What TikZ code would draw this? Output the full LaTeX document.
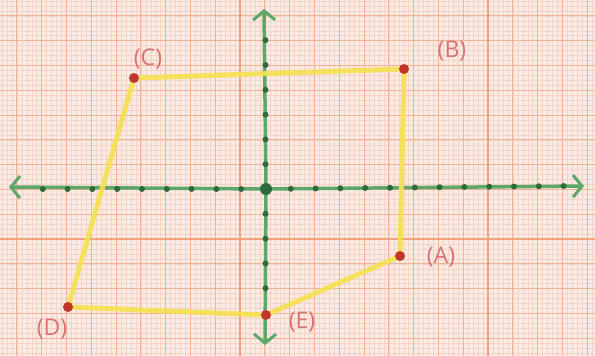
\documentclass[tikz,border=0pt]{standalone}
\usepackage{fontspec}
\setsansfont{Open Sans}
\usetikzlibrary{arrows.meta}
\definecolor{paper}{HTML}{FAEAE3}
\definecolor{finegrid}{HTML}{F1D5C8}
\definecolor{midgrid}{HTML}{F0B396}
\definecolor{boldgrid}{HTML}{F2A27A}
\definecolor{axisgreen}{HTML}{5DA868}
\definecolor{dotgreen}{HTML}{2F6A3C}
\definecolor{shapeyellow}{HTML}{F5E150}
\definecolor{pointred}{HTML}{C3352C}
\definecolor{labelred}{HTML}{D97276}
\tikzset{
  axisline/.style={draw=axisgreen, line width=3.5pt, line cap=round,
    -{Straight Barb[length=9pt,width=22pt,line width=3pt]}},
  tickdot/.style={circle, fill=dotgreen, inner sep=0pt, minimum size=6pt},
  origindot/.style={circle, fill=dotgreen, inner sep=0pt, minimum size=12pt},
  edge/.style={draw=shapeyellow, line width=5pt, line cap=round, line join=round, opacity=0.9},
  ptdot/.style={circle, fill=pointred, inner sep=0pt, minimum size=10pt},
  ptlabel/.style={text=labelred, font=\sffamily\fontsize{23}{23}\selectfont, inner sep=0pt}
}
\begin{document}
\begin{tikzpicture}[x=1pt,y=-1pt]
\useasboundingbox (0,0) rectangle (595,356);
\fill[paper] (0,0) rectangle (595,356);
% fine grid
\foreach \i in {-50,...,72}{
  \draw[finegrid, line width=0.35pt] ({240+4.96*\i},0) -- ({240+4.96*\i},356);
}
\foreach \j in {-50,...,25}{
  \draw[finegrid, line width=0.35pt] (0,{239+4.96*\j}) -- (595,{239+4.96*\j});
}
% medium grid
\foreach \i in {-10,...,15}{
  \draw[midgrid, line width=0.9pt] ({240+24.8*\i},0) -- ({240+24.8*\i},356);
}
\foreach \j in {-10,...,5}{
  \draw[midgrid, line width=0.9pt] (0,{239+24.8*\j}) -- (595,{239+24.8*\j});
}
% bold grid
\draw[boldgrid, line width=1.6pt] (240,0) -- (240,356);
\draw[boldgrid, line width=1.6pt] (488,0) -- (488,356);
\draw[boldgrid, line width=1.6pt] (0,239) -- (595,239);

% axes
\coordinate (O) at (266,189);
\coordinate (xl) at (9,187);
\coordinate (xr) at (584,186);
\coordinate (yt) at (264,9);
\coordinate (yb) at (265,345);
\draw[axisline] (O) -- (xl);
\draw[axisline] (O) -- (xr);
\draw[axisline] (O) -- (yt);
\draw[axisline] (O) -- (yb);
\foreach \k in {1,...,9}{
  \node[tickdot] (xm\k) at ({266-24.8*\k},189) {};
}
\foreach \k in {1,...,12}{
  \node[tickdot] (xp\k) at ({266+24.8*\k},{189-0.25*\k}) {};
}
\foreach \k in {1,...,6}{
  \node[tickdot] (yp\k) at (265.5,{189-24.8*\k}) {};
}
\foreach \k in {1,...,4}{
  \node[tickdot] (ym\k) at (265.5,{189+24.8*\k}) {};
}
\node[origindot] (o) at (O) {};

% shape
\coordinate (A) at (400,256);
\coordinate (B) at (404,69);
\coordinate (C) at (134,78);
\coordinate (D) at (68,307);
\coordinate (E) at (266,315);
\draw[edge] (C) -- (B) -- (A) -- (E) -- (D) -- cycle;
\foreach \p in {A,B,C,D,E}{
  \node[ptdot] (d\p) at (\p) {};
}
\node[ptlabel] (lA) at (441,257) {(A)};
\node[ptlabel] (lB) at (452,51) {(B)};
\node[ptlabel] (lC) at (148,59) {(C)};
\node[ptlabel] (lD) at (52,329) {(D)};
\node[ptlabel] (lE) at (302,322) {(E)};
\end{tikzpicture}
\end{document}
